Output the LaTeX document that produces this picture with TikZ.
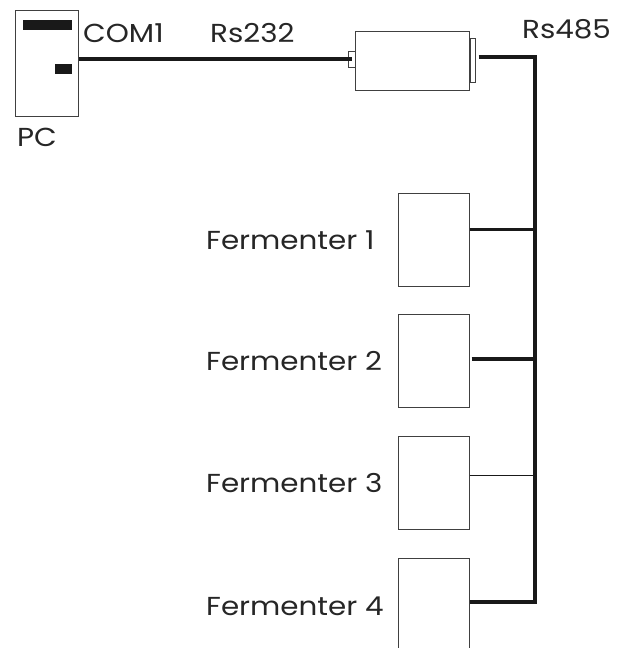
\documentclass[tikz,border=0pt]{standalone}
\usepackage{fontspec}
\setmainfont{Poppins}[FakeStretch=1.13]
\usetikzlibrary{calc}
\begin{document}
\begin{tikzpicture}[x=1pt,y=-1pt,
  box/.style={draw=black!75,line width=1pt,fill=white,inner sep=0pt},
  wire/.style={draw=black!90,line width=4pt},
  lbl/.style={inner sep=0pt,anchor=base west,font=\fontsize{26}{26}\selectfont,text=black!85}]
\useasboundingbox (0,0) rectangle (620,648);
\clip (0,0) rectangle (620,648);
% PC
\node[box,minimum width=63pt,minimum height=106pt] (pc) at (46.5,63) {};
\fill[black!90] (23,20) rectangle (72,30);
\fill[black!90] (55,64) rectangle (72,74);
% converter
\node[box,minimum width=114pt,minimum height=59pt] (conv) at (412,60.5) {};
\node[box,minimum width=7pt,minimum height=16pt] (convL) at (351.5,59) {};
\node[box,minimum width=5pt,minimum height=44pt] (convR) at (472.5,60) {};
% fermenters
\node[box,minimum width=71pt,minimum height=93pt] (f1) at (433.5,239.5) {};
\node[box,minimum width=71pt,minimum height=93pt] (f2) at (433.5,361) {};
\node[box,minimum width=71pt,minimum height=93pt] (f3) at (433.5,483) {};
\node[box,minimum width=71pt,minimum height=93pt] (f4) at (433.5,604.5) {};
% bus
\coordinate (busTop) at (535,57);
\coordinate (busBot) at (535,602);
\draw[wire,line cap=butt] (pc.east |- convL) -- (convL.center);
\draw[wire,line join=miter] ($(convR.east)+(3,-3)$) -- (busTop) -- (busBot) -- (f4.east |- busBot);
\draw[draw=black!90,line width=3pt] ($(f1.east)+(0,-10)$) -- ($(f1.east -| busTop)+(0,-10)$);
\draw[draw=black!90,line width=4pt] ($(f2.east)+(2,-2)$) -- ($(f2.east -| busTop)+(0,-2)$);
\draw[draw=black!90,line width=1pt] ($(f3.east)+(0,-8)$) -- ($(f3.east -| busTop)+(0,-8)$);
% labels
\node[lbl] (lcom) at (83,42) {COM1};
\node[lbl] (l232) at (210,42) {Rs232};
\node[lbl] (l485) at (522,38) {Rs485};
\node[lbl] (lpc) at (17,146) {PC};
\node[lbl] (lf1) at (206,249) {Fermenter 1};
\node[lbl] (lf2) at (206,370) {Fermenter 2};
\node[lbl] (lf3) at (206,492) {Fermenter 3};
\node[lbl] (lf4) at (206,615) {Fermenter 4};
\end{tikzpicture}
\end{document}
